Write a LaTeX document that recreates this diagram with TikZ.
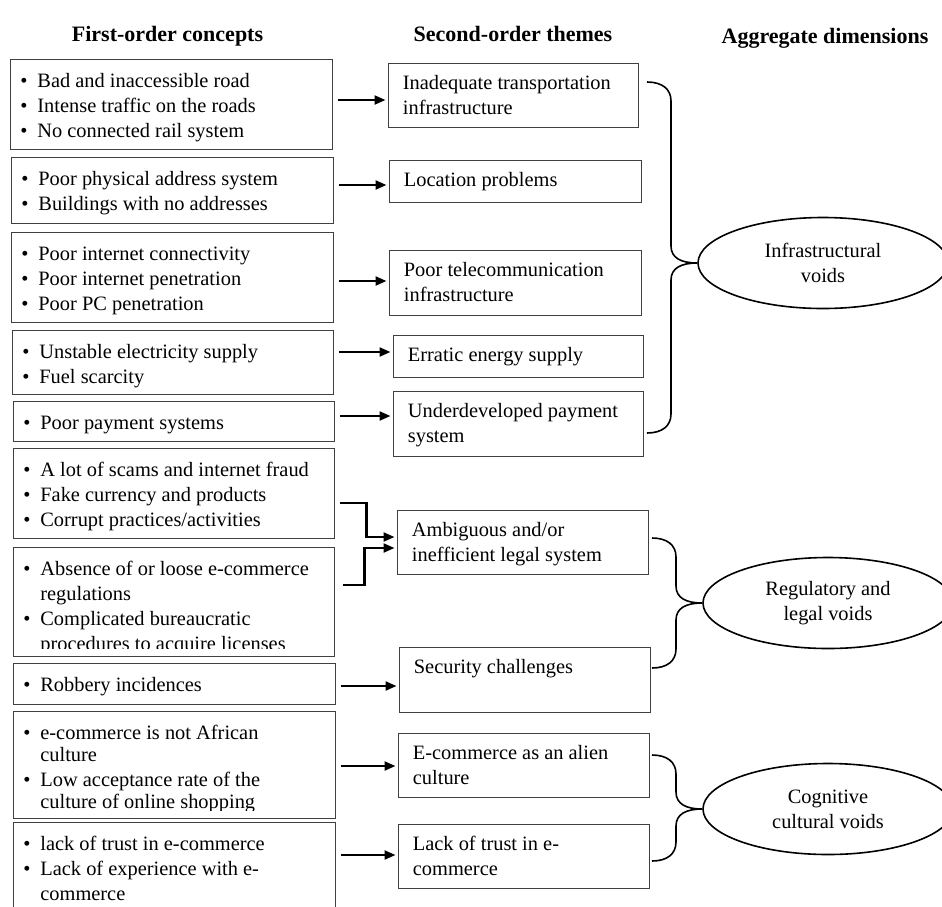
\documentclass[tikz,border=0pt]{standalone}
\usepackage{fontspec}
\setmainfont{Liberation Serif}
\usetikzlibrary{arrows.meta,shapes.geometric,fit}
\newcommand{\bul}{\strut\makebox[8.5pt][l]{\textbullet}}
\newcommand{\hang}{\hspace*{8.5pt}}

\begin{document}
\begin{tikzpicture}[x=0.5pt, y=-0.5pt,
    box/.style={draw=black!75, line width=0.5pt, inner sep=0pt},
    txt/.style={anchor=north west, inner sep=0pt, align=left, font=\fontsize{10.2}{12.5}\selectfont},
    head/.style={anchor=base, inner sep=0pt, font=\fontsize{11}{13}\selectfont\bfseries},
    dim/.style={draw, ellipse, line width=0.8pt, minimum width=125pt, minimum height=45.5pt,
      inner sep=0pt, align=center, font=\fontsize{10.2}{12.5}\selectfont},
    arr/.style={-{Triangle[length=5.5pt,width=4.5pt]}, line width=1.1pt, shorten >=1pt},
    brc/.style={line width=0.8pt}]
  \useasboundingbox (0,0) rectangle (942,906);
  % column heads
  \node[head] (h1) at (167.5,41) {First-order concepts};
  \node[head] (h2) at (513,41) {Second-order themes};
  \node[head] (h3) at (825,43) {Aggregate dimensions};
  % frames: first-order concepts (left) and second-order themes (middle)
  \foreach \n/\l/\r/\t/\b in {c1/10/332/59/149, c2/11/333/157/223, c3/11/333/232/322,
      c4/12/333/330/394, c5/13/334/401/441, c6/13/334/448/538, c7/13/334/547/656,
      c8/13/335/663/704, c9/13/335/711/818, c10/13/335/822/910}
    \node[box, fit={(\l,\t) (\r,\b)}] (\n) {};
  \foreach \n/\l/\r/\t/\b in {m1/388/638/63/127, m2/389/641/160/202, m3/389/641/250/315,
      m4/393/643/335/377, m5/393/643/391/456, m6/397/648/510/574, m7/399/650/647/712,
      m8/398/649/733/797, m9/398/649/824/888}
    \node[box, fit={(\l,\t) (\r,\b)}] (\n) {};
  % concepts
  \node[txt] (c1t) at ([shift={(10.5,11)}]c1.north west)
    {\bul Bad and inaccessible road\\\bul Intense traffic on the roads\\\bul No connected rail system};
  \node[txt] (c2t) at ([shift={(10.5,11)}]c2.north west)
    {\bul Poor physical address system\\\bul Buildings with no addresses};
  \node[txt] (c3t) at ([shift={(10.5,11)}]c3.north west)
    {\bul Poor internet connectivity\\\bul Poor internet penetration\\\bul Poor PC penetration};
  \node[txt] (c4t) at ([shift={(10.5,11)}]c4.north west)
    {\bul Unstable electricity supply\\\bul Fuel scarcity};
  \node[txt] (c5t) at ([shift={(10.5,11)}]c5.north west) {\bul Poor payment systems};
  \node[txt] (c6t) at ([shift={(10.5,11)}]c6.north west)
    {\bul A lot of scams and internet fraud\\\bul Fake currency and products\\\bul Corrupt practices/activities};
  \begin{scope}
    \clip (c7.north west) rectangle ([yshift=4pt]c7.south east);
    \node[txt] (c7t) at ([shift={(10.5,11)}]c7.north west)
      {\bul Absence of or loose e-commerce\\\hang regulations\\\bul Complicated bureaucratic\\\hang procedures to acquire licenses};
  \end{scope}
  \node[txt] (c8t) at ([shift={(10.5,11)}]c8.north west) {\bul Robbery incidences};
  \begin{scope}
    \clip (c9.north west) rectangle ([yshift=4pt]c9.south east);
    \node[txt] (c9t) at ([shift={(10.5,11)}]c9.north west)
      {\bul e-commerce is not African\\[-1.5pt]\hang culture\\\bul Low acceptance rate of the\\[-1.5pt]\hang culture of online shopping};
  \end{scope}
  \node[txt] (c10t) at ([shift={(10.5,11)}]c10.north west)
    {\bul lack of trust in e-commerce\\\bul Lack of experience with e-\\\hang commerce};
  % themes
  \node[txt] (m1t) at ([shift={(15,9)}]m1.north west) {\strut Inadequate transportation\\infrastructure};
  \node[txt] (m2t) at ([shift={(15,9)}]m2.north west) {\strut Location problems};
  \node[txt] (m3t) at ([shift={(15,9)}]m3.north west) {\strut Poor telecommunication\\infrastructure};
  \node[txt] (m4t) at ([shift={(15,9)}]m4.north west) {\strut Erratic energy supply};
  \node[txt] (m5t) at ([shift={(15,9)}]m5.north west) {\strut Underdeveloped payment\\system};
  \node[txt] (m6t) at ([shift={(15,9)}]m6.north west) {\strut Ambiguous and/or\\inefficient legal system};
  \node[txt] (m7t) at ([shift={(15,9)}]m7.north west) {\strut Security challenges};
  \node[txt] (m8t) at ([shift={(15,9)}]m8.north west) {\strut E-commerce as an alien\\culture};
  \node[txt] (m9t) at ([shift={(15,9)}]m9.north west) {\strut Lack of trust in e-\\commerce};
  % aggregate dimensions
  \node[dim] (i1) at (823,263) {Infrastructural\\voids};
  \node[dim] (i2) at (828,603) {Regulatory and\\legal voids};
  \node[dim] (i3) at (828,809) {Cognitive\\cultural voids};
  % concepts -> themes
  \foreach \c/\m/\dy in {c1/m1/-4, c2/m2/-5, c3/m3/4, c4/m4/-10, c5/m5/-5,
      c8/m7/2.5, c9/m8/1.5, c10/m9/-11}
    \draw[arr] (\c.east) ++(5,\dy) coordinate (s) -- (s -| \m.west);
  \draw[arr] (c6.east) ++(5,10) -- ++(27,0) |- ([yshift=2.5pt]m6.west);
  \draw[arr] (c7.east) ++(8,-16.5) -- ++(22,0) |- ([yshift=-3pt]m6.west);
  % themes -> dimensions
  \foreach \x/\t/\b/\m/\e in {647/82/433/263/i1, 652/538/668/603/i2, 652/755/861/809/i3}
    \draw[brc] (\x,\t) .. controls +(15,0) and +(0,-12) .. (\x+24,\t+19)
      -- (\x+24,\m-17) .. controls +(0,12) and +(-16,0) .. (\e.west)
      .. controls +(-16,0) and +(0,-12) .. (\x+24,\m+17)
      -- (\x+24,\b-19) .. controls +(0,12) and +(15,0) .. (\x,\b);
\end{tikzpicture}
\end{document}
